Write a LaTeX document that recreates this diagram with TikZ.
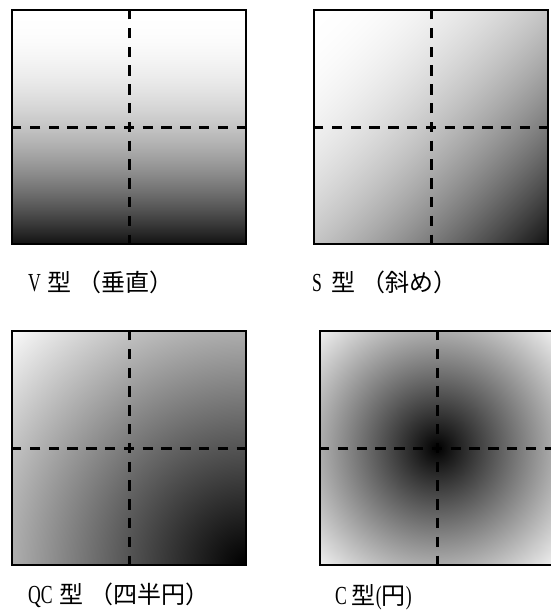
\documentclass[tikz,border=0pt]{standalone}
\usepackage{fontspec}
\usepackage{graphicx}
\setmainfont{Liberation Serif}
\newfontfamily\jp{Noto Sans CJK JP}
\newcommand{\lat}[1]{\scalebox{0.68}[1]{\fontsize{26}{28}\selectfont #1}}
\pgfdeclarefunctionalshading{vsh}{\pgfpointorigin}{\pgfpoint{100bp}{100bp}}{}{exch pop 75 exch sub 50 div dup mul 0.93 mul 1 exch sub dup dup}
\pgfdeclarefunctionalshading{ssh}{\pgfpointorigin}{\pgfpoint{100bp}{100bp}}{}{sub 50 add 100 div dup mul 0.93 mul 1 exch sub dup dup}
\pgfdeclarefunctionalshading{qcsh}{\pgfpointorigin}{\pgfpoint{100bp}{100bp}}{}{25 sub dup mul exch 75 sub dup mul add sqrt 70.71 div 1.05 exp 0.98 mul dup dup}
\pgfdeclarefunctionalshading{csh}{\pgfpointorigin}{\pgfpoint{100bp}{100bp}}{}{50 sub dup mul exch 50 sub dup mul add sqrt 35.355 div 0.95 exp 0.94 mul dup dup}
\tikzset{
  sq/.style={draw=black, line width=1.4pt, shade, rectangle, inner sep=0pt, minimum width=234pt, minimum height=234pt},
  cross/.style={line width=3pt, dash pattern=on 10.5pt off 8.3pt, dash phase=5.25pt},
  lbl/.style={anchor=base west, inner sep=0pt, font=\fontsize{24}{28}\selectfont}
}
\begin{document}
\begin{tikzpicture}[x=1pt, y=-1pt]
\useasboundingbox (0,0) rectangle (551,611);
\clip (0,0) rectangle (551,611);
\node[sq, shading=vsh] (A) at (129,127) {};
\node[sq, shading=ssh] (B) at (431,127) {};
\node[sq, shading=qcsh] (C) at (129,448) {};
\node[sq, shading=csh] (D) at (437,448) {};
\foreach \s in {A,B,C,D}{
  \foreach \a in {north,south,east,west}{
    \draw[cross] (\s.center) -- (\s.\a);
  }
}
\node[lbl] (la) at (28,291) {\lat{V}\hspace{7pt}{\jp 型}\hspace{6pt}{\jp （垂直）}};
\node[lbl] (lb) at (312,291) {\lat{S}\hspace{9pt}{\jp 型}\hspace{6pt}{\jp （斜め）}};
\node[lbl] (lc) at (28,603) {\lat{QC}\hspace{7pt}{\jp 型}\hspace{6pt}{\jp （四半円）}};
\node[lbl] (ld) at (335,604) {\lat{C}\hspace{5pt}{\jp 型}\lat{(}{\jp 円}\lat{)}};
\end{tikzpicture}
\end{document}
